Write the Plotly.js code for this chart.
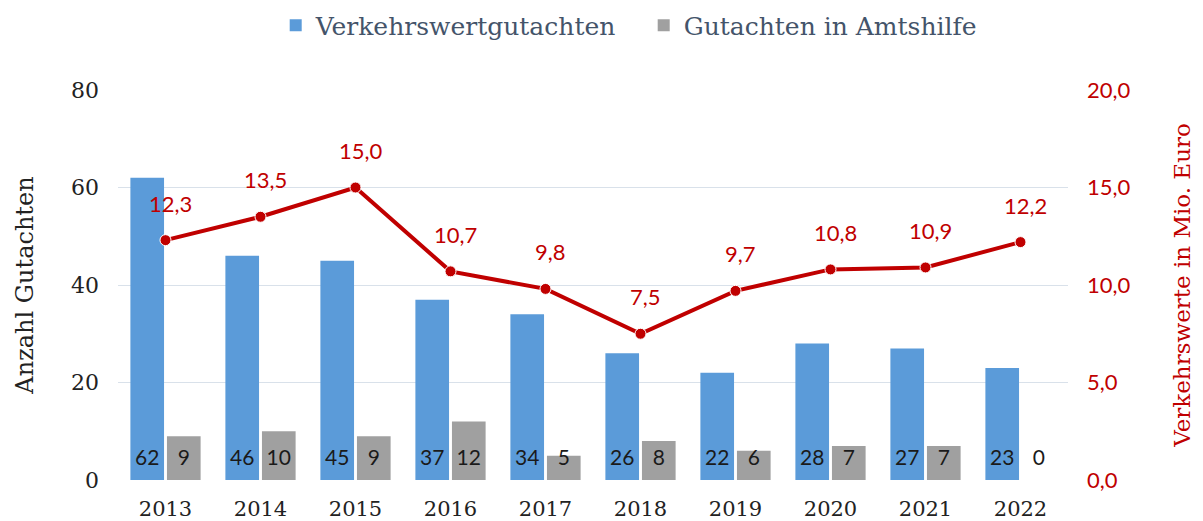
<!DOCTYPE html>
<html>
<head>
<meta charset="utf-8">
<script src="https://cdn.plot.ly/plotly-3.0.1.min.js"></script>
<style>html,body{margin:0;padding:0;background:#fff;}#chart{width:1203px;height:521px;}</style>
</head>
<body>
<div id="chart"></div>
<script>
const years = ['2013','2014','2015','2016','2017','2018','2019','2020','2021','2022'];
const verkehrswertgutachten = [62, 46, 45, 37, 34, 26, 22, 28, 27, 23];
const amtshilfe = [9, 10, 9, 12, 5, 8, 6, 7, 7, 0];
const verkehrswerte = [12.3, 13.5, 15.0, 10.7, 9.8, 7.5, 9.7, 10.8, 10.9, 12.2];
const rightTicks = [0, 5, 10, 15, 20];

const serif = '"DejaVu Serif", serif';
const sans = 'Lato, "Liberation Sans", sans-serif';
const red = '#c00000';

const fmt = v => v.toFixed(1).replace('.', ',');
const barLabel = v => '<span style="font-size:21px">' + v + '</span><br> ';

const traces = [
  {
    type: 'bar', name: 'Verkehrswertgutachten', x: years, y: verkehrswertgutachten,
    marker: {color: '#5b9bd9'},
    text: verkehrswertgutachten.map(barLabel), textposition: 'inside', insidetextanchor: 'start',
    textangle: 0, textfont: {family: sans, size: 8, color: '#1a1a1a'}, cliponaxis: false,
    hoverinfo: 'skip'
  },
  {
    type: 'bar', name: 'Gutachten in Amtshilfe', x: years, y: amtshilfe,
    marker: {color: '#a0a0a0'},
    text: amtshilfe.map(barLabel), textposition: amtshilfe.map(v => v > 0 ? 'inside' : 'outside'),
    insidetextanchor: 'start', textangle: 0,
    textfont: {family: sans, size: 8, color: '#1a1a1a'}, cliponaxis: false,
    hoverinfo: 'skip'
  },
  {
    type: 'scatter', mode: 'lines+markers', name: 'Verkehrswerte', x: years, y: verkehrswerte,
    yaxis: 'y2', showlegend: false,
    line: {color: red, width: 4},
    marker: {color: red, size: 11, line: {color: '#ffffff', width: 1}},
    hoverinfo: 'skip'
  }
];

const annotations = years.map((yr, i) => ({
  x: i, y: verkehrswerte[i], xref: 'x', yref: 'y2', text: fmt(verkehrswerte[i]),
  showarrow: false, yshift: 37, xshift: 5,
  font: {family: sans, size: 22, color: red}
}));

const layout = {
  width: 1203, height: 521,
  margin: {l: 118, r: 135, t: 90, b: 41},
  paper_bgcolor: '#ffffff', plot_bgcolor: '#ffffff',
  barmode: 'group', bargap: 0.23, bargroupgap: 0.08,
  uniformtext: {mode: 'show', minsize: 8},
  showlegend: true,
  legend: {orientation: 'h', x: 0.166, xanchor: 'left', yref: 'container', y: 0.995, yanchor: 'top',
           entrywidth: 323, entrywidthmode: 'pixels',
           font: {family: serif, size: 25, color: '#44546a'}, traceorder: 'normal', itemwidth: 30},
  xaxis: {type: 'category', range: [-0.5, years.length - 0.5], showgrid: false, zeroline: false,
          showline: false, ticks: '', ticklabelstandoff: 14, automargin: false,
          tickfont: {family: serif, size: 21, color: '#222'}, fixedrange: true},
  yaxis: {range: [0, 80], dtick: 20, showgrid: true, gridcolor: '#d9e1ea', gridwidth: 1,
          zeroline: false, showline: false, ticks: '', ticklabelstandoff: 18, automargin: false,
          tickfont: {family: serif, size: 22, color: '#222'},
          title: {text: 'Anzahl Gutachten', font: {family: serif, size: 24, color: '#222'}, standoff: 30}},
  yaxis2: {range: [0, 20], overlaying: 'y', side: 'right', showgrid: false,
           zeroline: false, showline: false, ticklabelstandoff: 18, automargin: false,
           tickmode: 'array', tickvals: rightTicks, ticktext: rightTicks.map(fmt),
           tickfont: {family: sans, size: 22, color: red},
           title: {text: 'Verkehrswerte in Mio. Euro', font: {family: serif, size: 23, color: red}, standoff: 44}},
  annotations: annotations
};

Plotly.newPlot('chart', traces, layout, {displayModeBar: false, staticPlot: true});
</script>
</body>
</html>
